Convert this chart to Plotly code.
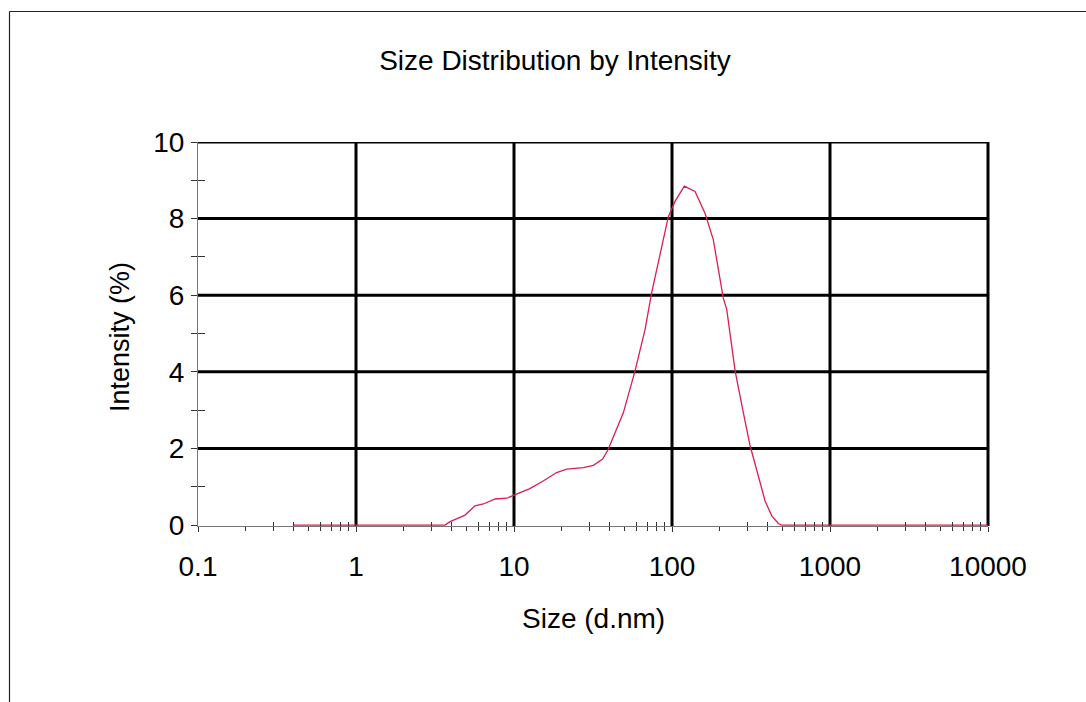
import plotly.graph_objects as go
import numpy as np

# Intensity-weighted size distribution (DLS)
size_nm = [0.4, 1, 2, 3.66, 3.94, 4.9, 5.66, 6.4, 7.59, 9.0, 10, 12.6, 15.3, 18.6,
           21.6, 27.5, 31.8, 36.4, 39.5, 49.2, 58.3, 67.5, 74.3, 86.1, 94.8, 104.5,
           119.7, 139.9, 161.8, 182.5, 211, 222, 251, 283, 312, 352, 388, 428, 471,
           494, 1000, 10000]
intensity_pct = [0, 0, 0, 0, 0.09, 0.26, 0.50, 0.55, 0.68, 0.70, 0.78, 0.95, 1.15, 1.37,
                 1.46, 1.50, 1.56, 1.72, 1.98, 2.93, 4.02, 5.10, 6.06, 7.27, 8.05, 8.45,
                 8.85, 8.71, 8.14, 7.45, 5.93, 5.63, 4.02, 2.93, 2.07, 1.28, 0.63, 0.24, 0.04,
                 0, 0, 0]

x_ticks = [0.1, 1, 10, 100, 1000, 10000]
x_tick_text = ["0.1", "1", "10", "100", "1000", "10000"]
y_ticks = [0, 2, 4, 6, 8, 10]

X_MIN, X_MAX = 0.1, 10000
Y_MIN, Y_MAX = -0.025, 10   # a hair below zero so the baseline of the curve stays visible

FONT = "Liberation Sans, Arial, sans-serif"
CURVE = "#dc1e50"

fig = go.Figure()

# invisible copy that keeps the overlay axes (inner tick marks) alive
fig.add_trace(go.Scatter(x=size_nm, y=intensity_pct, xaxis="x2", yaxis="y2",
                         mode="lines", line=dict(width=0), hoverinfo="skip",
                         showlegend=False))

fig.add_trace(go.Scatter(x=size_nm, y=intensity_pct, mode="lines",
                         line=dict(color=CURVE, width=1.3),
                         showlegend=False))

# heavy black grid lines, skipping the left and bottom edges
lx0, lx1 = np.log10(X_MIN), np.log10(X_MAX)
shapes = []
for v in x_ticks[1:]:
    f = (np.log10(v) - lx0) / (lx1 - lx0)
    shapes.append(dict(type="line", xref="x domain", yref="y domain", x0=f, x1=f,
                       y0=0, y1=1, line=dict(color="black", width=3), layer="below"))
for v in y_ticks[1:]:
    shapes.append(dict(type="line", xref="x domain", yref="y", x0=0, x1=1,
                       y0=v, y1=v, line=dict(color="black", width=3), layer="below"))

# frame around the page (top and left edges)
shapes.append(dict(type="line", xref="paper", yref="paper",
                   x0=(9.5 - 198) / 790, x1=(1090 - 198) / 790,
                   y0=(526 - 11.5) / 384, y1=(526 - 11.5) / 384,
                   line=dict(color="#222222", width=1.2)))
shapes.append(dict(type="line", xref="paper", yref="paper",
                   x0=(9.5 - 198) / 790, x1=(9.5 - 198) / 790,
                   y0=(526 - 11.5) / 384, y1=(526 - 710) / 384,
                   line=dict(color="#222222", width=1.2)))

tick_font = dict(family=FONT, size=28, color="black")
label_font = dict(family=FONT, size=28, color="black")

fig.update_layout(
    width=1086, height=702,
    margin=dict(l=198, r=98, t=142, b=176),
    paper_bgcolor="white", plot_bgcolor="white",
    font=dict(family=FONT, color="black"),
    title=dict(text="Size Distribution by Intensity", font=dict(family=FONT, size=28),
               xref="container", yref="container", x=555 / 1086, xanchor="center",
               y=1 - 60 / 702, yanchor="middle"),
    shapes=shapes,
    xaxis=dict(type="log", range=[lx0, lx1], showgrid=False, zeroline=False,
               tickvals=x_ticks, ticktext=x_tick_text, tickfont=tick_font,
               ticks="outside", ticklen=5, tickcolor="#333333", tickwidth=1,
               showline=True, linecolor="#777777", linewidth=1, layer="below traces",
               minor=dict(ticks="outside", ticklen=4, tickcolor="#333333",
                          dtick="D1", showgrid=False),
               ticklabelstandoff=10),
    yaxis=dict(range=[Y_MIN, Y_MAX], showgrid=False, zeroline=False,
               tickvals=y_ticks, tickfont=tick_font,
               ticks="outside", ticklen=6, tickcolor="#333333", tickwidth=1,
               showline=True, linecolor="#777777", linewidth=1, layer="below traces",
               minor=dict(ticks="outside", ticklen=6, tickcolor="#333333",
                          tickvals=[1, 3, 5, 7, 9], showgrid=False),
               ticklabelstandoff=1),
    xaxis2=dict(type="log", range=[lx0, lx1], overlaying="x", anchor="y2",
                showgrid=False, zeroline=False, showticklabels=False, ticks="",
                minor=dict(ticks="inside", ticklen=4, tickcolor="#333333",
                           dtick="D1", showgrid=False)),
    yaxis2=dict(range=[Y_MIN, Y_MAX], overlaying="y", anchor="x2", side="left",
                showgrid=False, zeroline=False, showticklabels=False, ticks="",
                minor=dict(ticks="inside", ticklen=7, tickcolor="#333333",
                           tickvals=[1, 3, 5, 7, 9], showgrid=False)),
    annotations=[
        dict(text="Size (d.nm)", xref="paper", yref="paper", x=0.5,
             y=(526 - 618) / 384, xanchor="center", yanchor="middle",
             showarrow=False, font=label_font),
        dict(text="Intensity (%)", xref="paper", yref="paper", x=(120 - 198) / 790,
             y=(526 - 337) / 384, xanchor="center", yanchor="middle",
             textangle=-90, showarrow=False, font=dict(family=FONT, size=27)),
    ],
)

fig.write_html("out.html")
